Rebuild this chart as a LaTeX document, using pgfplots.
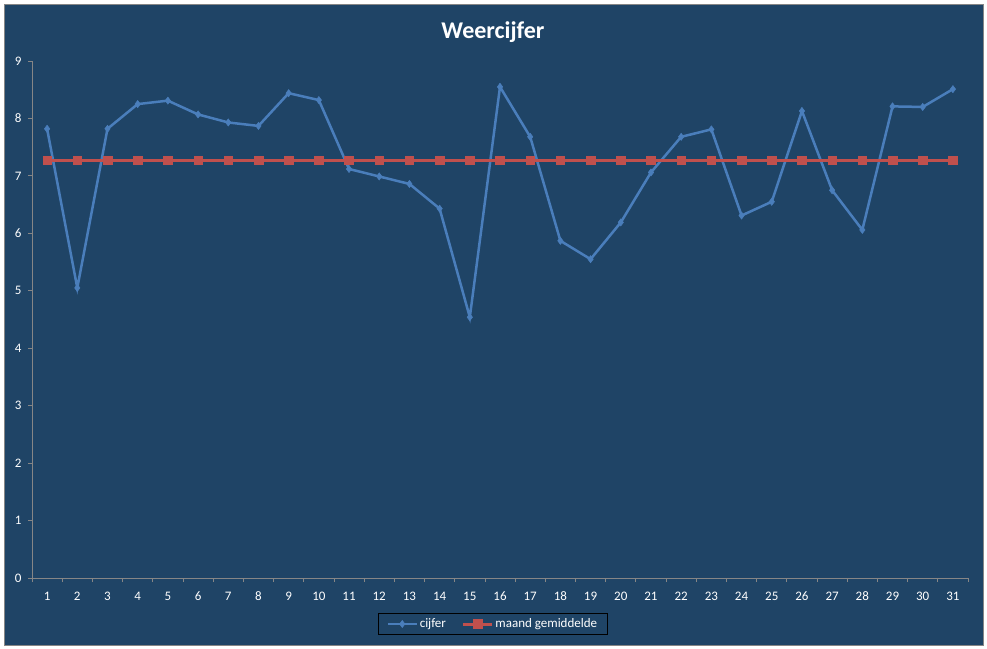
\documentclass[border=0pt]{standalone}
\usepackage{pgfplots}
\pgfplotsset{compat=1.18}
\usepackage{fontspec}
\setmainfont{Carlito}
\definecolor{bgblue}{HTML}{1F4466}
\definecolor{lineblue}{HTML}{4A7EBB}
\definecolor{linered}{HTML}{C0504D}
\definecolor{axgrey}{HTML}{868686}
\begin{document}
\begin{tikzpicture}
\useasboundingbox (-32pt,-70pt) rectangle (955pt,578pt);
\fill[white] (-32pt,-70pt) rectangle (955pt,578pt);
\filldraw[fill=bgblue, draw=axgrey, line width=1pt] (-27pt,-67pt) rectangle (951pt,573pt);
\begin{axis}[
  at={(0,0)}, anchor=south west,
  scale only axis, width=936pt, height=517pt,
  xmin=0.5, xmax=31.5, ymin=0, ymax=9,
  axis x line*=bottom, axis y line*=left,
  axis line style={draw=axgrey, line width=0.8pt},
  xtick={1,...,31}, major x tick style={draw=none},
  minor xtick={0.5,1.5,...,31.5},
  ytick={0,1,...,9},
  tick align=outside,
  major tick length=4pt, minor tick length=4pt,
  tick style={draw=axgrey, line width=0.8pt},
  minor tick style={draw=axgrey, line width=0.8pt},
  ticklabel style={font=\fontsize{13}{15}\selectfont, text=white},
  /pgf/number format/assume math mode=true,
  xticklabel style={yshift=-6pt, text height=9pt, text depth=0pt},
  yticklabel style={xshift=-3pt},
  title={Weercijfer},
  title style={at={(0.4925,1.045)}, anchor=center, font=\fontsize{24}{28}\selectfont\bfseries, text=white},
  legend columns=2,
  legend style={at={(0.4925,-0.089)}, anchor=center, fill=bgblue, draw=black, line width=0.8pt, text=white, font=\fontsize{13}{15}\selectfont, inner xsep=8pt, inner ysep=3pt, /tikz/every even column/.append style={column sep=14pt}},
  legend image code/.code={\draw[#1] (0cm,0cm) -- (1cm,0cm); \draw[#1, mark repeat=2, mark phase=2] plot coordinates {(0cm,0cm) (0.5cm,0cm) (1cm,0cm)};},
]
\addplot[color=lineblue, line width=2.5pt, mark=diamond*, mark size=3.6pt, mark options={fill=lineblue, draw=lineblue, line width=0.5pt}] coordinates {
(1,7.82) (2,5.05) (3,7.82) (4,8.25) (5,8.31) (6,8.07) (7,7.93) (8,7.87) (9,8.44) (10,8.32)
(11,7.12) (12,6.99) (13,6.86) (14,6.43) (15,4.54) (16,8.55) (17,7.68) (18,5.87) (19,5.55) (20,6.19)
(21,7.06) (22,7.68) (23,7.81) (24,6.31) (25,6.55) (26,8.13) (27,6.75) (28,6.06) (29,8.21) (30,8.20) (31,8.51)
};
\addlegendentry{cijfer}
\addplot[color=linered, line width=3pt, mark=square*, mark size=4.3pt, mark options={fill=linered, draw=linered, line width=0.5pt}] coordinates {
(1,7.27) (2,7.27) (3,7.27) (4,7.27) (5,7.27) (6,7.27) (7,7.27) (8,7.27) (9,7.27) (10,7.27)
(11,7.27) (12,7.27) (13,7.27) (14,7.27) (15,7.27) (16,7.27) (17,7.27) (18,7.27) (19,7.27) (20,7.27)
(21,7.27) (22,7.27) (23,7.27) (24,7.27) (25,7.27) (26,7.27) (27,7.27) (28,7.27) (29,7.27) (30,7.27) (31,7.27)
};
\addlegendentry{maand gemiddelde}
\end{axis}
\end{tikzpicture}
\end{document}
